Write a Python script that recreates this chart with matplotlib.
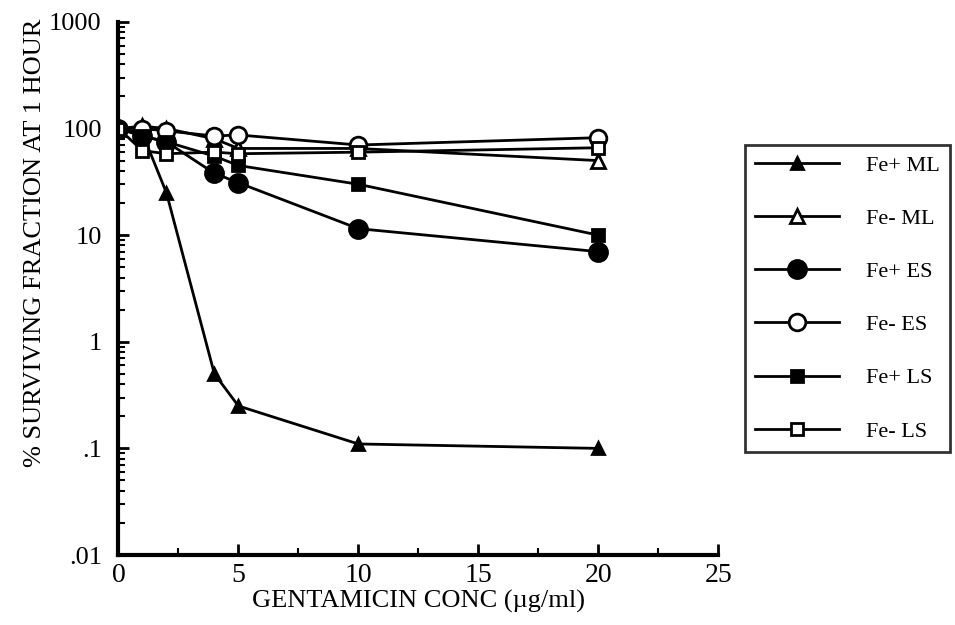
import matplotlib
matplotlib.use("Agg")
import matplotlib.pyplot as plt
from matplotlib.ticker import FixedLocator, LogLocator, NullFormatter, MultipleLocator

plt.rcParams["font.family"] = ["Liberation Serif", "DejaVu Serif"]

# gentamicin concentration (ug/ml)
conc = [0, 1, 2, 4, 5, 10, 20]

# % surviving fraction at 1 hour
fe_plus_ml = [100, 90, 25, 0.5, 0.25, 0.11, 0.1]
fe_minus_ml = [100, 105, 100, 80, 65, 65, 50]
fe_plus_es = [100, 85, 75, 38, 31, 11.5, 7]
fe_minus_es = [100, 100, 95, 85, 87, 70, 82]
fe_plus_ls = [100, 85, 75, 55, 45, 30, 10]
fe_minus_ls = [100, 62, 58, 60, 58, 60, 66]

labels = ["Fe+ ML", "Fe- ML", "Fe+ ES", "Fe- ES", "Fe+ LS", "Fe- LS"]
series = [fe_plus_ml, fe_minus_ml, fe_plus_es, fe_minus_es, fe_plus_ls, fe_minus_ls]
markers = ["^", "^", "o", "o", "s", "s"]
filled = [True, False, True, False, True, False]
msizes = [8, 10, 13, 12, 8, 8]

fig = plt.figure(figsize=(9.55, 6.25), dpi=100)
ax = fig.add_axes([0.124, 0.112, 0.628, 0.853])

for y, lab, m, f, ms in zip(series, labels, markers, filled, msizes):
    ax.plot(conc, y, color="black", lw=2, marker=m, markersize=ms,
            markerfacecolor="black" if f else "white",
            markeredgecolor="black", markeredgewidth=2, label=lab)

ax.set_yscale("log")
ax.set_ylim(0.01, 1000)
ax.set_xlim(0, 25)
ax.yaxis.set_major_locator(FixedLocator([0.01, 0.1, 1, 10, 100, 1000]))
ax.set_yticklabels([".01", ".1", "1", "10", "100", "1000"])
ax.yaxis.set_minor_locator(LogLocator(base=10, subs=range(2, 10)))
ax.yaxis.set_minor_formatter(NullFormatter())
ax.set_xticks([0, 5, 10, 15, 20, 25])
ax.xaxis.set_minor_locator(MultipleLocator(2.5))

for s in ["top", "right"]:
    ax.spines[s].set_visible(False)
for s in ["left", "bottom"]:
    ax.spines[s].set_linewidth(3)

ax.tick_params(axis="both", which="major", direction="in", length=8, width=2,
               labelsize=19)
ax.tick_params(axis="x", which="major", pad=6, labelsize=20)
ax.tick_params(axis="y", which="major", pad=12)
ax.tick_params(axis="both", which="minor", direction="in", length=5, width=1.5)

ax.set_xlabel("GENTAMICIN CONC (\u00b5g/ml)", fontsize=19, labelpad=1)
ax.set_ylabel("% SURVIVING FRACTION AT 1 HOUR", fontsize=19)
ax.yaxis.set_label_coords(-0.12, 0.585)

leg = ax.legend(loc="upper left", bbox_to_anchor=(0.780, 0.768), bbox_transform=fig.transFigure,
                frameon=True, fancybox=False, edgecolor="black", fontsize=16,
                handlelength=3.8, handletextpad=1.2, labelspacing=1.47,
                borderpad=0.45, borderaxespad=0)
leg.get_frame().set_linewidth(2)

fig.savefig("out.png", dpi=100)
